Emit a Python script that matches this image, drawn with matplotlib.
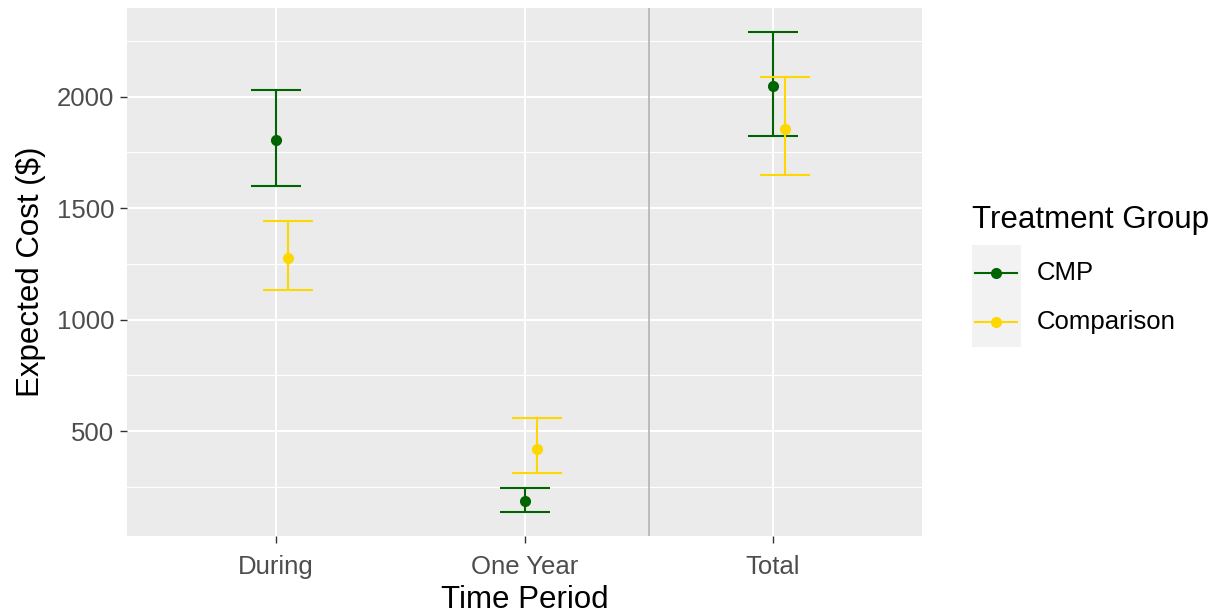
import matplotlib
matplotlib.use("Agg")
import matplotlib.pyplot as plt
from matplotlib.lines import Line2D
from matplotlib.patches import Rectangle
from matplotlib.ticker import MultipleLocator
import numpy as np

plt.rcParams["font.family"] = ["Liberation Sans", "DejaVu Sans"]

periods = ["During", "One Year", "Total"]
groups = ["CMP", "Comparison"]
colors = {"CMP": "#006400", "Comparison": "#FFD700"}

cmp_mean = [1804, 186, 2046]
cmp_low = [1599, 137, 1824]
cmp_high = [2028, 243, 2290]

comp_mean = [1277, 419, 1854]
comp_low = [1133, 314, 1648]
comp_high = [1443, 557, 2086]

series = {
    "CMP": (cmp_mean, cmp_low, cmp_high),
    "Comparison": (comp_mean, comp_low, comp_high),
}
offsets = {"CMP": 0.0, "Comparison": 0.05}

fig = plt.figure(figsize=(12.19, 6.14), dpi=100)
ax = fig.add_axes([127 / 1219, 1 - 536 / 614, (922 - 127) / 1219, (536 - 8) / 614])
ax.set_facecolor("#EBEBEB")
for s in ax.spines.values():
    s.set_visible(False)

x = np.arange(1, len(periods) + 1)
for g in groups:
    m, lo, hi = (np.array(v, dtype=float) for v in series[g])
    xs = x + offsets[g]
    ax.errorbar(xs, m, yerr=[m - lo, hi - m], fmt="o", color=colors[g],
                ecolor=colors[g], elinewidth=1.5, capsize=18, capthick=1.5,
                markersize=7, zorder=3)

ax.axvline(2.5, color="#B3B3B3", linewidth=1.2, zorder=2)

allv = np.concatenate([cmp_low, cmp_high, comp_low, comp_high])
rng = allv.max() - allv.min()
ax.set_ylim(allv.min() - 0.05 * rng, allv.max() + 0.05 * rng)
ax.set_xlim(0.4, 3.6)

ax.set_xticks(x)
ax.set_xticklabels(periods)
ax.yaxis.set_major_locator(MultipleLocator(500))
ax.yaxis.set_minor_locator(MultipleLocator(250))
ax.grid(which="major", color="white", linewidth=1.5, zorder=0)
ax.grid(which="minor", axis="y", color="white", linewidth=0.8, zorder=0)
ax.set_axisbelow(True)
ax.tick_params(which="major", length=5, width=1, color="#333333",
               labelcolor="#4D4D4D", labelsize=18.5, pad=4)
ax.tick_params(axis="x", which="major", pad=9)
ax.tick_params(which="minor", length=0)

ax.set_xlabel("Time Period", fontsize=22.5, color="black", labelpad=4)
ax.set_ylabel("Expected Cost ($)", fontsize=22.5, color="black", labelpad=8)

# legend drawn in figure pixels
W, H = 1219, 614
def fx(px):
    return px / W
def fy(py):
    return 1 - py / H

fig.text(fx(972), fy(220), "Treatment Group", fontsize=22.5, va="center", ha="left")
fig.patches.append(Rectangle((fx(972), fy(347)), fx(1021) - fx(972), fy(245) - fy(347),
                             transform=fig.transFigure, facecolor="#F2F2F2",
                             edgecolor="none"))
for g, yc in zip(groups, [272.5, 322]):
    fig.lines.append(Line2D([fx(975), fx(1017)], [fy(yc), fy(yc)], transform=fig.transFigure,
                            color=colors[g], linewidth=1.5))
    fig.lines.append(Line2D([fx(996)], [fy(yc)], transform=fig.transFigure, marker="o",
                            markersize=7, color=colors[g], linestyle="none"))
    fig.text(fx(1037), fy(yc), g, fontsize=18.5, va="center", ha="left")

fig.savefig("out.png", dpi=100)
